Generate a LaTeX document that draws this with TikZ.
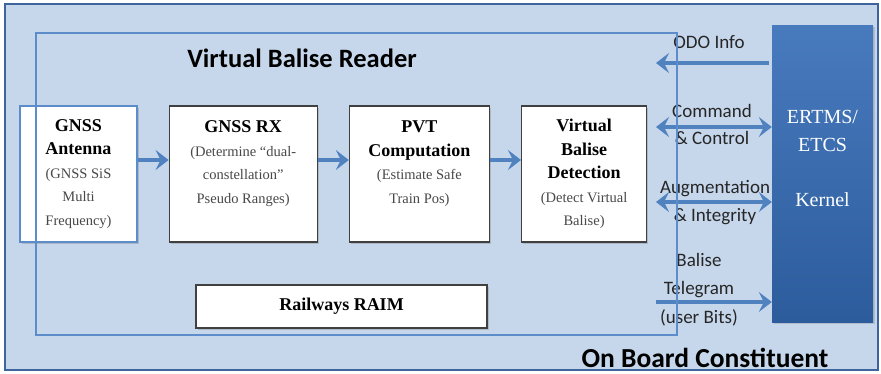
\documentclass[tikz,border=0pt]{standalone}
\usepackage{fontspec}
\setmainfont{Liberation Serif}
\newfontfamily\calibri{Carlito}
\usetikzlibrary{shapes,arrows,arrows.meta,positioning,fit,backgrounds,shadows}
\definecolor{paneblue}{RGB}{198, 215, 236}
\definecolor{frameblue}{RGB}{62, 100, 158}
\definecolor{lineblue}{RGB}{92, 140, 202}
\definecolor{arrowblue}{RGB}{80, 130, 192}
\definecolor{kerneltop}{RGB}{72, 122, 190}
\definecolor{kernelbot}{RGB}{44, 92, 156}
\definecolor{subgrey}{RGB}{72, 72, 72}
\newcommand{\subtxt}[1]{{\fontsize{14.5}{23.5}\selectfont\mdseries\color{subgrey}#1}}
\tikzstyle{block} = [rectangle, draw=black!75, line width=1.2pt, fill=white, align=center, inner sep=0pt, minimum height=136pt, font=\fontsize{18}{23.5}\selectfont\bfseries, drop shadow={shadow xshift=1.5pt, shadow yshift=-1.5pt, opacity=0.35}]
\tikzstyle{kernelbox} = [rectangle, draw=none, top color=kerneltop, bottom color=kernelbot, text=white, align=center, font=\fontsize{20}{28}\selectfont, drop shadow={shadow xshift=1.5pt, shadow yshift=-1.5pt, opacity=0.3}]
\tikzstyle{title} = [draw=none, fill=none, font=\calibri\bfseries\fontsize{26.5}{30}\selectfont]
\tikzstyle{textonly} = [draw=none, fill=none, align=center, text=black!85, font=\calibri\fontsize{19}{27.5}\selectfont]
\tikzstyle{flow} = [draw=arrowblue, line width=3.5pt, -{Stealth[length=13pt, width=20pt, inset=5pt]}]
\tikzstyle{flowboth} = [draw=arrowblue, line width=3.5pt, {Stealth[length=13pt, width=20pt, inset=5pt]}-{Stealth[length=13pt, width=20pt, inset=5pt]}]

\begin{document}
\begin{tikzpicture}[x=1pt, y=-1pt, auto]

\useasboundingbox (0,0) rectangle (881,373);
\draw[draw=frameblue, line width=2pt, fill=paneblue] (5,4) rectangle (878,370);

% blocks =============================
\node[block, draw=lineblue, minimum width=117pt] (ant) at (78.5,174) {GNSS\\Antenna\\\subtxt{(GNSS SiS}\\\subtxt{Multi}\\\subtxt{Frequency)}};
\node[block, minimum width=148pt, right=31pt of ant] (rx) {GNSS RX\\\subtxt{(Determine “dual-}\\\subtxt{constellation”}\\\subtxt{Pseudo Ranges)}\\~};
\node[block, minimum width=140pt, right=31pt of rx] (pvt) {PVT\\Computation\\\subtxt{(Estimate Safe}\\\subtxt{Train Pos)}\\~};
\node[block, minimum width=125pt, right=31pt of pvt] (vbd) {Virtual\\Balise\\Detection\\\subtxt{(Detect Virtual}\\\subtxt{Balise)}};
\node[block, minimum width=291pt, minimum height=43pt] (raim) at (341.5,306.5) {Railways RAIM};
\node[kernelbox, minimum width=101pt, minimum height=297pt] (kernel) at (822.5,173.5) {ERTMS/\\ETCS\\[27pt]Kernel\\[2pt]~};

% titles
\node[title] (vbr) at (302,58) {Virtual Balise Reader};
\node[title, anchor=base, font=\calibri\bfseries\fontsize{27.5}{30}\selectfont] (obc) at (705,367) {On Board Constituent};

% edges
\path[flow] ([yshift=14pt]ant.east) -- ([yshift=14pt]rx.west);
\path[flow] ([yshift=14pt]rx.east) -- ([yshift=14pt]pvt.west);
\path[flow] ([yshift=14pt]pvt.east) -- ([yshift=14pt]vbd.west);

\coordinate (odo) at (656,63);
\coordinate (cmd) at (656,127);
\coordinate (aug) at (656,202);
\coordinate (tel) at (656,302);
\path[flow] ([xshift=-3pt]kernel.west |- odo) -- (odo);
\path[flowboth] (cmd) -- (kernel.west |- cmd);
\path[flowboth] (aug) -- (kernel.west |- aug);
\path[flow] (tel) -- (kernel.west |- tel);

\node[textonly] (odolbl) at (709,42) {ODO Info};
\node[textonly] (cmdlbl) at (712,124.5) {Command\\\& Control};
\node[textonly] (auglbl) at (715,202.5) {Augmentation\\\& Integrity};
\node[textonly, font=\calibri\fontsize{19}{28.5}\selectfont] (tellbl) at (699,289.5) {Balise\\Telegram\\(user Bits)};

% reader frame on top
\draw[lineblue, line width=1.2pt] (36,33) rectangle (677,335);

\end{tikzpicture}
\end{document}
